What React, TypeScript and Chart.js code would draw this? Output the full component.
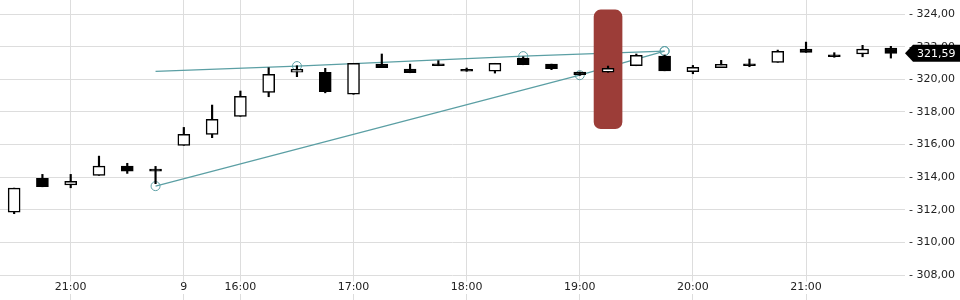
import { useEffect, useRef } from 'react';
import { Chart, registerables } from 'chart.js';

Chart.register(...registerables);

// 15-minute candles: previous evening, then day 9 from 15:30
const times = [
  '20:30', '20:45', '21:00', '21:15', '21:30', '21:45',
  '15:30', '15:45', '16:00', '16:15', '16:30', '16:45',
  '17:00', '17:15', '17:30', '17:45', '18:00', '18:15',
  '18:30', '18:45', '19:00', '19:15', '19:30', '19:45',
  '20:00', '20:15', '20:30', '20:45', '21:00', '21:15',
  '21:30', '21:45',
];

const xTickLabels = [
  '', '', '21:00', '', '', '',
  '9', '', '16:00', '', '', '',
  '17:00', '', '', '', '18:00', '',
  '', '', '19:00', '', '', '',
  '20:00', '', '', '', '21:00', '',
  '', '',
];

const opens = [
  311.86, 313.93, 313.53, 314.11, 314.68, 314.40,
  315.95, 316.62, 317.73, 319.20, 320.43, 320.43,
  319.08, 320.93, 320.63, 320.93, 320.50, 320.49,
  321.30, 320.93, 320.44, 320.43, 320.83, 321.42,
  320.46, 320.71, 320.93, 321.04, 321.85, 321.49,
  321.55, 321.92,
];
const highs = [
  313.33, 314.17, 314.17, 315.29, 314.85, 314.66,
  317.05, 318.42, 319.28, 320.71, 320.83, 320.67,
  320.98, 321.55, 320.93, 321.14, 320.69, 320.98,
  321.38, 320.93, 320.44, 320.81, 321.55, 321.49,
  320.85, 321.16, 321.24, 321.79, 322.28, 321.63,
  322.08, 322.02,
];
const lows = [
  311.76, 313.41, 313.35, 314.11, 314.23, 313.60,
  315.95, 316.42, 317.73, 318.93, 320.16, 319.17,
  319.08, 320.71, 320.40, 320.83, 320.49, 320.38,
  320.89, 320.59, 320.24, 320.43, 320.83, 320.52,
  320.34, 320.71, 320.77, 321.04, 321.65, 321.35,
  321.38, 321.30,
];
const closes = [
  313.33, 313.41, 313.74, 314.68, 314.36, 314.37,
  316.62, 317.54, 318.95, 320.30, 320.61, 319.24,
  320.98, 320.71, 320.40, 320.83, 320.49, 320.98,
  320.89, 320.65, 320.28, 320.67, 321.47, 320.52,
  320.73, 320.92, 320.83, 321.71, 321.65, 321.38,
  321.85, 321.59,
];

// trend lines (index, value)
const upperTrendPoints: [number, number][] = [[5, 320.49], [10, 320.81], [18, 321.42], [23, 321.73]];
const upperTrendMarkers = [false, true, true, true];
const lowerTrendPoints: [number, number][] = [[5, 313.45], [20, 320.25], [23, 321.73]];
const lowerTrendMarkers = [true, true, true];

// highlighted candle zone
const highlightIndex = 21;
const highlightRange: [number, number] = [316.97, 324.25];

const yTicks = [308, 310, 312, 314, 316, 318, 320, 322, 324];
const yMin = 306.47;
const yMax = 324.86;

const TEAL = '#5b9fa4';
const GRID = '#dddddd';
const TEXT = '#222222';
const FONT = '"DejaVu Sans", sans-serif';

const fmt = (v: number) => v.toFixed(2).replace('.', ',');

function buildLine(points: [number, number][], markers: boolean[]) {
  const data: (number | null)[] = times.map(() => null);
  const radius: number[] = times.map(() => 0);
  points.forEach(([i, v], k) => {
    data[i] = v;
    radius[i] = markers[k] ? 4.5 : 0;
  });
  return { data, radius };
}

const overlayPlugin = {
  id: 'overlay',
  afterDraw(chart: any) {
    const { ctx, scales, chartArea } = chart;
    const x = scales.x;
    const y = scales.y;
    ctx.save();
    ctx.font = `11px ${FONT}`;
    ctx.textAlign = 'center';
    ctx.textBaseline = 'middle';
    xTickLabels.forEach((lab, i) => {
      if (!lab) return;
      const px = x.getPixelForValue(i);
      const w = ctx.measureText(lab).width;
      ctx.fillStyle = '#ffffff';
      ctx.fillRect(px - w / 2 - 2, 281.5, w + 4, 12.5);
      ctx.fillStyle = TEXT;
      ctx.fillText(lab, px, 287.5);
    });
    // last price tag
    const last = closes[closes.length - 1];
    const py = y.getPixelForValue(last);
    const left = chartArea.right;
    const h = 8.5;
    ctx.beginPath();
    ctx.moveTo(left, py);
    ctx.lineTo(left + 8, py - h);
    ctx.lineTo(chart.width, py - h);
    ctx.lineTo(chart.width, py + h);
    ctx.lineTo(left + 8, py + h);
    ctx.closePath();
    ctx.fillStyle = '#000000';
    ctx.fill();
    ctx.fillStyle = '#ffffff';
    ctx.textAlign = 'left';
    ctx.fillText(fmt(last), left + 12, py + 0.5);
    ctx.restore();
  },
};

export default function App() {
  const ref = useRef<HTMLCanvasElement | null>(null);

  useEffect(() => {
    if (!ref.current) return;
    const up = opens.map((o, i) => closes[i] >= o);
    const upper = buildLine(upperTrendPoints, upperTrendMarkers);
    const lower = buildLine(lowerTrendPoints, lowerTrendMarkers);
    const highlight = times.map((_, i) => (i === highlightIndex ? highlightRange : null));

    const chart = new Chart(ref.current, {
      type: 'bar',
      data: {
        labels: times,
        datasets: [
          {
            label: 'body',
            data: opens.map((o, i) => [o, closes[i]]) as any,
            backgroundColor: up.map((u) => (u ? '#ffffff' : '#000000')),
            borderColor: '#000000',
            borderWidth: 1.5,
            borderSkipped: false,
            barThickness: 12,
            minBarLength: 2,
            grouped: false,
            order: 0,
          } as any,
          {
            label: 'wick',
            data: lows.map((l, i) => [l, highs[i]]) as any,
            backgroundColor: '#000000',
            borderWidth: 0,
            barThickness: 1.5,
            grouped: false,
            order: 1,
          } as any,
          {
            label: 'zone',
            data: highlight as any,
            backgroundColor: '#9c3d38',
            borderWidth: 0,
            borderRadius: 7,
            borderSkipped: false,
            barThickness: 28,
            grouped: false,
            order: 2,
          } as any,
          {
            type: 'line',
            label: 'upper',
            data: upper.data,
            borderColor: TEAL,
            borderWidth: 1.3,
            pointRadius: upper.radius,
            pointBorderColor: TEAL,
            pointBackgroundColor: 'rgba(0,0,0,0)',
            pointBorderWidth: 1,
            spanGaps: true,
            order: 3,
          } as any,
          {
            type: 'line',
            label: 'lower',
            data: lower.data,
            borderColor: TEAL,
            borderWidth: 1.2,
            pointRadius: lower.radius,
            pointBorderColor: TEAL,
            pointBackgroundColor: 'rgba(0,0,0,0)',
            pointBorderWidth: 1,
            spanGaps: true,
            order: 3,
          } as any,
        ],
      },
      options: {
        animation: false,
        responsive: false,
        layout: { padding: 0 },
        plugins: { legend: { display: false }, tooltip: { enabled: false } },
        scales: {
          x: {
            type: 'category',
            offset: true,
            border: { display: false },
            grid: { color: GRID, offset: false, drawTicks: false },
            ticks: { display: false, autoSkip: false },
            afterBuildTicks: (s: any) => {
              s.ticks = xTickLabels
                .map((l, i) => (l ? { value: i } : null))
                .filter(Boolean);
            },
            afterFit: (s: any) => {
              s.height = 0;
              s.paddingLeft = 0;
              s.paddingRight = 0;
              s.paddingTop = 0;
              s.paddingBottom = 0;
            },
          },
          y: {
            type: 'linear',
            position: 'right',
            min: yMin,
            max: yMax,
            border: { display: false },
            grid: { color: GRID, drawTicks: false },
            ticks: {
              padding: 4,
              color: TEXT,
              font: { family: FONT, size: 11 },
              callback: (v: any) => '- ' + fmt(Number(v)),
            },
            afterBuildTicks: (s: any) => {
              s.ticks = yTicks.map((v) => ({ value: v }));
            },
            afterFit: (s: any) => {
              s.width = 55;
              s.paddingTop = 0;
              s.paddingBottom = 0;
              s.paddingLeft = 0;
              s.paddingRight = 0;
            },
          },
        },
      },
      plugins: [overlayPlugin],
    });
    return () => chart.destroy();
  }, []);

  return (
    <div style={{ position: 'fixed', left: 0, top: 0, width: 960, height: 300, background: '#fff' }}>
      <canvas ref={ref} width={960} height={300} />
    </div>
  );
}
